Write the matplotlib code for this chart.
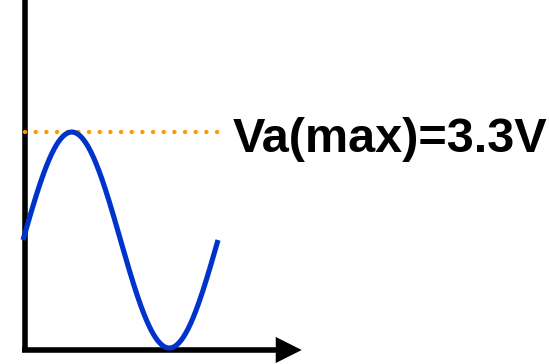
import numpy as np
import matplotlib
matplotlib.use("Agg")
import matplotlib.pyplot as plt

# Data: one full period of the signal Va(t), 0 .. Va_max
va_max = 3.3          # volts
periods = [0.0, 1.0]  # time span drawn (in periods)
label = "Va(max)=3.3V"

t = np.linspace(periods[0], periods[1], 400)
va = va_max / 2 + va_max / 2 * np.sin(2 * np.pi * t)

fig = plt.figure(figsize=(5.49, 3.64), dpi=100)
ax = fig.add_axes([0, 0, 1, 1])
ax.set_xlim(-0.118, 2.697)
ax.set_ylim(-0.244, 5.317)
ax.axis("off")

# axes (drawn as arrows/lines)
x0 = 0.009
y0 = -0.03
ax.plot([x0, x0], [y0 - 0.03, 5.4], color="black", lw=4, solid_capstyle="butt")
ax.plot([x0 - 0.012, 1.30], [y0, y0], color="black", lw=4, solid_capstyle="butt")
ax.annotate("", xy=(1.429, y0), xytext=(1.295, y0),
            arrowprops=dict(arrowstyle="-|>,head_length=18.7,head_width=9.4",
                            mutation_scale=1, lw=0, fc="black", ec="black",
                            shrinkA=0, shrinkB=0))

# max level dotted line
ax.plot([0.01, 1.0], [va_max, va_max], color="#FF9900", lw=3.2,
        linestyle=(0, (0.01, 2.39)), dash_capstyle="round")

# signal
ax.plot(t, va, color="#0033CC", lw=3.7, solid_capstyle="butt")

ax.text(1.077, 2.995, label, fontsize=35, fontweight="bold",
        family=["Liberation Sans", "DejaVu Sans"], va="baseline", ha="left",
        color="black")

fig.savefig("out.png", dpi=100)
